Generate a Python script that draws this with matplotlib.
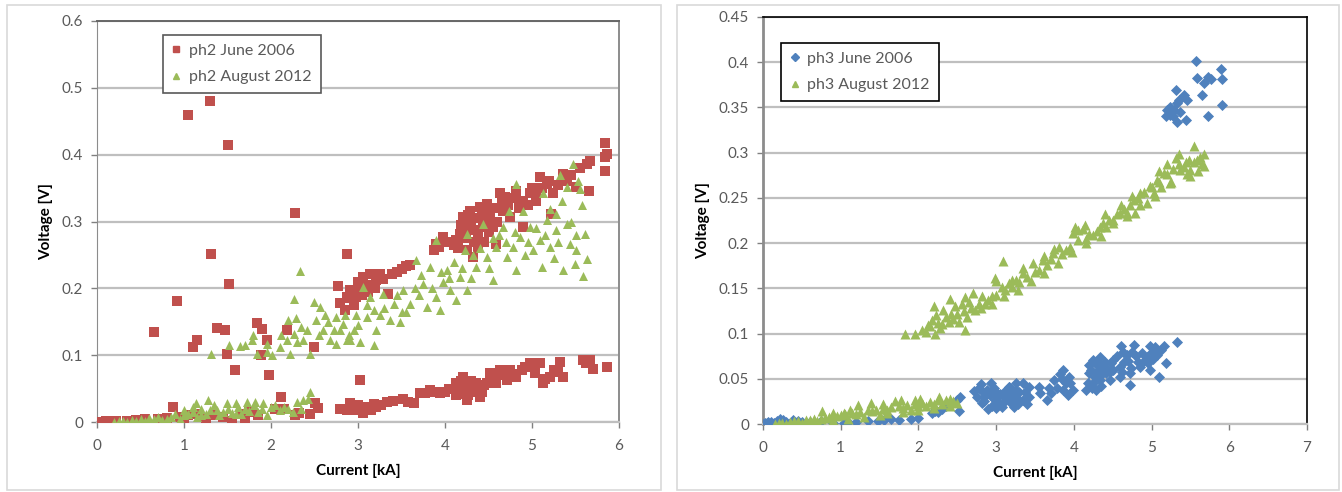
import numpy as np
import matplotlib.pyplot as plt
from matplotlib.patches import Rectangle
from matplotlib.lines import Line2D

plt.rcParams['font.family'] = ['Lato', 'DejaVu Sans']

# ---- ph2, June 2006 (current kA, voltage V) ----
ph2_2006_low = [(0.03, 0.0), (0.08, 0.0), (0.12, 0.0), (0.17, 0.0), (0.22, 0.001), (0.1, 0.002),
                (0.35, 0.002), (0.45, 0.003), (0.55, 0.005), (0.7, 0.004), (0.8, 0.006), (0.87, 0.023),
                (0.95, 0.008), (1.0, 0.0), (1.05, 0.01), (1.15, 0.012), (1.25, 0.005), (1.35, 0.01),
                (1.45, 0.008), (1.55, 0.002), (1.65, 0.012), (1.7, 0.005), (1.75, 0.015), (1.85, 0.01),
                (2.05, 0.02), (2.11, 0.038), (2.15, 0.02), (2.28, 0.01), (2.32, 0.014), (2.5, 0.028),
                (2.54, 0.021), (2.45, 0.012)]
ph2_2006_out = [(1.05, 0.46), (1.3, 0.48), (1.5, 0.415), (2.28, 0.312), (1.31, 0.252), (0.92, 0.181),
                (1.52, 0.206), (0.65, 0.134), (1.10, 0.112), (1.15, 0.122), (1.38, 0.141), (1.47, 0.138),
                (1.49, 0.102), (1.59, 0.078), (1.84, 0.148), (1.90, 0.139), (1.95, 0.122), (1.88, 0.1),
                (1.98, 0.07), (2.49, 0.112), (2.18, 0.137)]
ph2_2006_high = [(2.87, 0.252), (2.77, 0.204), (2.79, 0.178), (2.87, 0.187), (2.85, 0.167), (2.91, 0.197),
                 (2.91, 0.185), (2.98, 0.187), (3.06, 0.217), (3.14, 0.222), (3.21, 0.212), (3.29, 0.214),
                 (3.39, 0.222), (3.50, 0.229), (3.55, 0.234), (3.35, 0.192), (3.0, 0.2), (3.1, 0.205),
                 (3.87, 0.257), (3.90, 0.267), (3.98, 0.277), (4.17, 0.282), (4.21, 0.306), (4.29, 0.316),
                 (4.40, 0.321), (4.48, 0.311), (4.55, 0.292), (4.13, 0.272), (4.25, 0.257), (4.32, 0.247),
                 (4.36, 0.287), (4.59, 0.267), (4.67, 0.316), (4.69, 0.336), (4.63, 0.342), (4.75, 0.306),
                 (4.44, 0.292), (4.48, 0.326), (4.2, 0.29), (4.3, 0.3), (4.15, 0.26), (4.33, 0.27),
                 (4.90, 0.331), (4.98, 0.342), (5.09, 0.366), (5.17, 0.356), (5.24, 0.342), (5.36, 0.371),
                 (5.40, 0.361), (4.90, 0.292), (5.05, 0.331), (4.82, 0.346), (5.22, 0.311), (5.0, 0.35),
                 (5.63, 0.386), (5.67, 0.391), (5.65, 0.346), (5.51, 0.351), (5.84, 0.396), (5.84, 0.376),
                 (5.86, 0.401), (5.84, 0.418),
                 (4.18, 0.295), (4.24, 0.275), (4.27, 0.31), (4.34, 0.305), (4.38, 0.28), (4.42, 0.31),
                 (4.46, 0.3), (4.5, 0.285), (4.52, 0.305), (4.28, 0.29), (4.1, 0.265), (4.38, 0.262),
                 (4.45, 0.27), (4.55, 0.32), (4.6, 0.3), (4.65, 0.33), (4.72, 0.325), (4.8, 0.335),
                 (4.85, 0.32), (4.95, 0.325), (5.05, 0.345), (5.12, 0.35), (5.2, 0.36), (5.3, 0.355),
                 (5.45, 0.37), (5.55, 0.38), (3.0, 0.21), (3.05, 0.19), (3.2, 0.2), (3.25, 0.222),
                 (3.45, 0.225), (3.6, 0.235), (3.93, 0.262), (4.05, 0.27), (2.95, 0.175), (3.12, 0.195)]
ph2_2006_band = [(3.02, 0.063), (2.79, 0.020), (2.91, 0.028), (2.98, 0.018), (3.10, 0.023), (3.21, 0.023),
                 (3.33, 0.030), (3.06, 0.013), (2.87, 0.018), (3.15, 0.018), (3.27, 0.026),
                 (3.52, 0.035), (3.64, 0.028), (3.71, 0.043), (3.83, 0.048), (3.94, 0.043), (3.88, 0.045),
                 (4.13, 0.058), (4.21, 0.068), (4.29, 0.048), (4.36, 0.058), (4.25, 0.033), (4.13, 0.040),
                 (4.40, 0.038), (4.48, 0.058), (4.2, 0.05), (4.3, 0.062), (4.22, 0.042), (4.35, 0.045),
                 (4.52, 0.073), (4.63, 0.078), (4.75, 0.078), (4.59, 0.058), (4.82, 0.068), (4.98, 0.088),
                 (5.09, 0.088), (5.03, 0.073), (5.13, 0.058), (5.21, 0.068), (5.32, 0.090), (5.36, 0.068),
                 (5.59, 0.093), (5.67, 0.093), (5.70, 0.080), (5.86, 0.083), (4.71, 0.063), (4.55, 0.065),
                 (2.93, 0.022), (3.0, 0.025), (3.18, 0.027), (3.4, 0.032), (3.58, 0.03), (3.77, 0.044),
                 (4.0, 0.045), (4.05, 0.05), (4.15, 0.052), (4.18, 0.062), (4.27, 0.055), (4.32, 0.052),
                 (4.38, 0.05), (4.45, 0.055), (4.42, 0.045), (4.27, 0.04), (4.62, 0.07), (4.68, 0.075),
                 (4.78, 0.072), (4.88, 0.078), (4.92, 0.082), (5.25, 0.078), (5.3, 0.075), (5.15, 0.065),
                 (5.62, 0.088)]

# ---- ph2, August 2012 ----
ph2_2012_low = [(0.2, 0.0), (0.3, 0.002), (0.4, 0.003), (0.5, 0.004), (0.6, 0.006), (0.7, 0.008),
                (0.8, 0.005), (0.9, 0.012), (1.0, 0.01), (1.1, 0.015), (1.14, 0.028), (1.2, 0.02),
                (1.25, 0.012), (1.28, 0.033), (1.3, 0.018), (1.35, 0.025), (1.45, 0.015), (1.49, 0.029),
                (1.5, 0.02), (1.6, 0.028), (1.65, 0.012), (1.7, 0.02), (1.72, 0.030), (1.8, 0.025),
                (1.85, 0.015), (1.9, 0.02), (1.91, 0.028), (2.0, 0.022), (2.1, 0.018), (2.2, 0.02),
                (2.3, 0.03), (2.37, 0.033), (2.45, 0.045), (0.35, 0.0), (0.55, 0.002), (0.75, 0.003),
                (0.95, 0.005), (1.15, 0.008), (1.4, 0.01), (1.6, 0.012), (1.95, 0.01), (2.25, 0.015),
                (0.25, 0.001), (0.45, 0.002), (0.65, 0.004), (0.85, 0.008), (1.05, 0.012), (1.2, 0.01),
                (1.38, 0.018), (1.55, 0.014), (1.75, 0.016), (1.82, 0.03), (2.05, 0.025), (2.15, 0.022),
                (2.35, 0.02), (2.42, 0.035), (1.0, 0.018), (1.62, 0.022), (1.1, 0.022)]
ph2_2012_high = [(2.33, 0.226), (2.26, 0.184), (1.31, 0.101), (1.52, 0.115), (1.64, 0.113), (1.78, 0.122),
                 (1.79, 0.13), (1.84, 0.102), (1.95, 0.117), (2.01, 0.1), (2.10, 0.112), (2.18, 0.122),
                 (2.20, 0.152), (2.29, 0.155), (2.26, 0.132), (2.22, 0.102), (2.37, 0.122), (2.45, 0.102),
                 (2.49, 0.18), (2.56, 0.172), (2.52, 0.152), (2.60, 0.137), (2.68, 0.122), (2.75, 0.157),
                 (2.79, 0.137), (2.87, 0.122), (2.41, 0.137), (2.72, 0.137), (2.83, 0.147), (2.95, 0.137),
                 (2.75, 0.117), (2.91, 0.122), (3.02, 0.12), (3.18, 0.115), (3.10, 0.157), (3.18, 0.167),
                 (3.21, 0.137), (3.06, 0.202), (3.14, 0.187), (3.29, 0.192), (3.37, 0.152), (3.48, 0.15),
                 (3.41, 0.177), (3.52, 0.197), (3.60, 0.177), (3.67, 0.242), (3.75, 0.207), (3.79, 0.172),
                 (3.83, 0.232), (3.90, 0.187), (3.94, 0.167), (3.90, 0.272), (4.02, 0.227), (4.06, 0.197),
                 (4.13, 0.182), (4.17, 0.217), (4.25, 0.197), (4.23, 0.257), (4.25, 0.282), (4.36, 0.232),
                 (4.44, 0.297), (4.48, 0.247), (4.55, 0.212), (4.59, 0.262), (4.67, 0.292), (4.71, 0.247),
                 (4.73, 0.316), (4.78, 0.262), (4.82, 0.227), (4.86, 0.277), (4.90, 0.316), (4.98, 0.292),
                 (5.01, 0.257), (5.09, 0.272), (5.13, 0.342), (5.17, 0.302), (5.11, 0.232), (5.21, 0.262),
                 (5.28, 0.287), (5.36, 0.227), (5.40, 0.297), (5.44, 0.267), (5.49, 0.237), (5.51, 0.257),
                 (5.59, 0.219), (5.61, 0.282), (5.63, 0.244), (4.82, 0.356), (5.32, 0.369), (5.47, 0.386),
                 (5.53, 0.361), (5.55, 0.349), (5.57, 0.324), (5.40, 0.351), (5.21, 0.319), (5.28, 0.311),
                 (2.35, 0.142), (2.62, 0.16), (2.98, 0.16), (3.3, 0.17), (3.55, 0.165), (3.7, 0.19),
                 (3.98, 0.21), (4.1, 0.24), (4.4, 0.26), (4.62, 0.28), (4.95, 0.27), (5.25, 0.245),
                 (3.0, 0.145), (3.1, 0.175), (3.25, 0.16), (3.45, 0.19), (3.5, 0.165), (3.65, 0.2),
                 (3.72, 0.22), (3.85, 0.2), (3.95, 0.225), (4.05, 0.215), (4.2, 0.23), (4.3, 0.215),
                 (4.32, 0.25), (4.5, 0.23), (4.55, 0.275), (4.7, 0.27), (4.8, 0.285), (4.92, 0.25),
                 (5.05, 0.29), (5.15, 0.28), (5.3, 0.27), (5.45, 0.3), (5.5, 0.28), (5.35, 0.33),
                 (2.9, 0.13), (2.85, 0.16), (2.55, 0.13), (2.65, 0.15), (2.3, 0.12), (2.12, 0.13),
                 (1.7, 0.115), (1.95, 0.105)]

# ---- ph3, June 2006 ----
ph3_2006_low = [(0.0, 0.0), (0.02, 0.001), (0.05, 0.001), (0.1, 0.002), (0.14, 0.001), (0.22, 0.005),
                (0.3, 0.002), (0.39, 0.004), (0.5, 0.002), (0.74, 0.003), (0.9, 0.001), (1.04, 0.001),
                (1.2, 0.002), (1.35, 0.003), (1.56, 0.004), (1.75, 0.004), (1.91, 0.006), (2.17, 0.012),
                (2.21, 0.014), (2.30, 0.017), (2.25, 0.013), (2.52, 0.014), (2.54, 0.030), (2.5, 0.026),
                (0.06, 0.002), (0.18, 0.003), (0.26, 0.004), (0.45, 0.003), (0.6, 0.002), (1.1, 0.002),
                (1.48, 0.003), (1.65, 0.005), (2.0, 0.007), (2.35, 0.02), (2.42, 0.022)]
ph3_2006_mid = [(2.80, 0.044), (2.93, 0.045), (2.71, 0.036), (2.82, 0.023), (2.99, 0.027), (3.08, 0.019),
                (3.16, 0.041), (2.99, 0.036), (2.90, 0.017), (3.21, 0.030), (2.85, 0.03), (3.05, 0.033),
                (3.12, 0.025), (2.95, 0.02), (3.3, 0.035), (2.88, 0.038), (3.42, 0.041), (3.34, 0.045),
                (3.25, 0.038), (3.16, 0.041), (3.21, 0.027), (3.34, 0.027), (3.12, 0.030), (3.23, 0.019),
                (3.42, 0.030), (3.28, 0.022), (3.86, 0.060), (3.94, 0.052), (3.99, 0.038), (3.86, 0.038),
                (3.92, 0.032), (3.75, 0.049), (3.71, 0.034), (3.66, 0.027), (3.55, 0.041), (3.57, 0.034),
                (3.9, 0.045), (3.82, 0.055),
                (2.75, 0.03), (2.78, 0.04), (2.85, 0.025), (2.92, 0.032), (2.97, 0.04), (3.02, 0.03),
                (3.05, 0.022), (3.1, 0.035), (3.15, 0.028), (3.18, 0.034), (3.26, 0.03), (3.3, 0.025),
                (3.37, 0.035), (3.4, 0.022), (2.83, 0.035), (3.0, 0.018), (3.2, 0.022), (3.25, 0.045),
                (3.78, 0.04), (3.85, 0.05), (3.95, 0.045), (3.68, 0.04)]
ph3_2006_band = [(5.33, 0.091), (5.16, 0.086), (4.98, 0.086), (4.77, 0.087), (4.61, 0.086), (4.68, 0.076),
                 (4.94, 0.074), (5.07, 0.076), (5.18, 0.067), (5.09, 0.052), (4.98, 0.060), (4.85, 0.063),
                 (4.72, 0.056), (4.72, 0.043), (4.59, 0.063), (4.51, 0.071), (4.42, 0.056), (4.33, 0.074),
                 (4.25, 0.071), (4.20, 0.056), (4.33, 0.049), (4.16, 0.038), (4.29, 0.038), (4.46, 0.049),
                 (4.38, 0.062), (4.51, 0.060), (4.59, 0.052), (4.2, 0.065), (4.3, 0.058), (4.25, 0.045),
                 (4.8, 0.075), (4.9, 0.07), (5.0, 0.08), (4.65, 0.068), (4.4, 0.068), (5.12, 0.082),
                 (4.22, 0.06), (4.27, 0.052), (4.31, 0.066), (4.36, 0.055), (4.41, 0.062), (4.46, 0.058),
                 (4.48, 0.067), (4.55, 0.075), (4.63, 0.08), (4.7, 0.07), (4.75, 0.08), (4.83, 0.068),
                 (4.88, 0.078), (4.95, 0.067), (5.02, 0.072), (5.05, 0.085), (4.18, 0.045), (4.23, 0.04),
                 (4.28, 0.066), (4.35, 0.042), (4.62, 0.058), (4.74, 0.062)]
ph3_2006_high = [(5.57, 0.401), (5.59, 0.383), (5.68, 0.377), (5.72, 0.384), (5.76, 0.381), (5.65, 0.364),
                 (5.89, 0.392), (5.91, 0.381), (5.91, 0.353), (5.72, 0.341), (5.32, 0.369), (5.42, 0.364),
                 (5.46, 0.358), (5.33, 0.355), (5.24, 0.351), (5.20, 0.347), (5.29, 0.347), (5.37, 0.345),
                 (5.18, 0.340), (5.33, 0.334), (5.44, 0.336), (5.24, 0.342), (5.35, 0.358), (5.28, 0.340)]

# ---- ph3, August 2012 ----
ph3_2012_low = [(0.15, 0.0), (0.25, 0.001), (0.35, 0.002), (0.45, 0.003), (0.55, 0.004), (0.65, 0.005),
                (0.75, 0.006), (0.85, 0.008), (0.95, 0.009), (1.05, 0.011), (1.15, 0.012), (1.25, 0.013),
                (1.35, 0.015), (1.45, 0.016), (1.55, 0.017), (1.65, 0.019), (1.75, 0.02), (1.85, 0.021),
                (1.95, 0.022), (2.05, 0.023), (2.15, 0.024), (2.25, 0.026), (2.35, 0.027), (2.45, 0.025),
                (1.39, 0.023), (1.78, 0.027), (2.26, 0.030), (2.41, 0.028), (2.49, 0.023), (2.02, 0.028),
                (1.22, 0.021), (0.76, 0.014), (1.04, 0.012), (1.5, 0.01), (1.8, 0.013), (2.0, 0.015),
                (2.2, 0.018), (1.1, 0.006), (0.9, 0.004), (0.6, 0.001), (2.4, 0.02), (0.3, 0.0),
                (0.5, 0.001), (0.7, 0.003), (1.3, 0.008), (1.6, 0.012), (1.9, 0.016), (2.1, 0.02),
                (0.2, 0.001), (0.4, 0.003), (0.6, 0.004), (0.8, 0.007), (1.0, 0.01), (1.2, 0.011),
                (1.4, 0.014), (1.6, 0.016), (1.8, 0.018), (2.0, 0.02), (2.2, 0.022), (2.4, 0.024),
                (1.12, 0.016), (1.55, 0.022), (1.95, 0.026), (2.3, 0.022), (0.9, 0.012), (1.7, 0.025)]
ph3_2012_high = [(1.83, 0.100), (1.96, 0.100), (2.10, 0.102), (2.17, 0.115), (2.23, 0.121), (2.32, 0.126),
                 (2.30, 0.111), (2.39, 0.113), (2.52, 0.113), (2.60, 0.104), (2.47, 0.130), (2.56, 0.133),
                 (2.65, 0.135), (2.73, 0.126), (2.82, 0.141), (2.86, 0.133), (2.95, 0.141), (2.99, 0.161),
                 (3.09, 0.180), (3.08, 0.152), (3.16, 0.156), (3.25, 0.159), (2.21, 0.100), (3.21, 0.159),
                 (3.34, 0.167), (3.47, 0.178), (3.60, 0.181), (3.73, 0.189), (3.81, 0.196), (3.55, 0.170),
                 (3.75, 0.194), (3.90, 0.192), (3.99, 0.211), (4.12, 0.216), (4.16, 0.204), (4.25, 0.209),
                 (4.33, 0.218), (4.42, 0.218), (4.51, 0.226), (4.61, 0.242), (4.68, 0.233), (4.77, 0.248),
                 (4.85, 0.255), (4.94, 0.244), (4.98, 0.263), (5.07, 0.270), (5.16, 0.277), (5.20, 0.287),
                 (5.24, 0.266), (5.31, 0.294), (5.37, 0.281), (5.44, 0.290), (5.50, 0.281), (5.55, 0.307),
                 (5.59, 0.292), (5.68, 0.298), (5.68, 0.285), (5.50, 0.274), (4.01, 0.218), (4.14, 0.220),
                 (4.59, 0.233), (4.79, 0.233), (5.03, 0.255),
                 (2.05, 0.104), (2.15, 0.108), (2.25, 0.112), (2.35, 0.118), (2.42, 0.122), (2.5, 0.122),
                 (2.58, 0.125), (2.68, 0.128), (2.78, 0.133), (2.9, 0.137), (3.0, 0.143), (3.12, 0.148),
                 (3.2, 0.152), (3.3, 0.157), (3.4, 0.163), (3.5, 0.168), (3.65, 0.176), (3.7, 0.182),
                 (3.85, 0.188), (3.95, 0.196), (4.05, 0.203), (4.2, 0.21), (4.3, 0.213), (4.38, 0.222),
                 (4.45, 0.226), (4.55, 0.232), (4.65, 0.238), (4.72, 0.242), (4.82, 0.25), (4.9, 0.256),
                 (5.0, 0.262), (5.1, 0.268), (5.12, 0.262), (5.2, 0.276), (5.28, 0.282), (5.35, 0.288),
                 (5.42, 0.284), (5.48, 0.292), (5.55, 0.29), (5.62, 0.295), (5.65, 0.288), (2.12, 0.11),
                 (2.28, 0.106), (2.45, 0.116), (2.62, 0.118), (2.8, 0.128), (2.95, 0.133), (3.1, 0.142),
                 (3.28, 0.148), (3.45, 0.158), (3.62, 0.167), (3.8, 0.178), (3.98, 0.19), (4.15, 0.2),
                 (4.35, 0.208), (4.5, 0.222), (4.68, 0.23), (4.85, 0.242), (5.05, 0.252), (5.25, 0.268),
                 (5.45, 0.276), (5.6, 0.28), (2.2, 0.13), (2.4, 0.138), (2.7, 0.145), (3.0, 0.158),
                 (3.35, 0.172), (3.62, 0.186), (4.05, 0.214), (4.4, 0.232), (4.75, 0.252), (5.1, 0.28),
                 (5.35, 0.298), (2.6, 0.14)]

RED = '#C0504D'
GREEN = '#9BBB59'
BLUE = '#4F81BD'
TXT = '#595959'


def pts(*groups):
    arr = np.array([p for g in groups for p in g])
    return arr[:, 0], arr[:, 1]


def style_axes(ax, xmax, ymax, ystep, ylabels):
    ax.set_xlim(0, xmax)
    ax.set_ylim(0, ymax)
    ax.set_xticks(range(0, xmax + 1))
    ax.set_yticks(np.arange(0, ymax + ystep / 2, ystep))
    ax.set_yticklabels(ylabels)
    ax.grid(axis='y', color='#bfbfbf', linewidth=1.6)
    ax.set_axisbelow(True)
    ax.tick_params(colors='#808080', labelcolor=TXT, labelsize=11, length=4, width=1)
    ax.tick_params(axis='x', pad=8)
    ax.tick_params(axis='y', pad=6)
    ax.set_xlabel('Current [kA]', fontweight='bold', fontsize=11, color='#000000', labelpad=8)
    ax.set_ylabel('Voltage [V]', fontweight='bold', fontsize=11, color='#000000', labelpad=6)


fig = plt.figure(figsize=(13.42, 4.92), dpi=100)
fig.patches.append(Rectangle((7 / 1342, 2 / 492), 654 / 1342, 485 / 492, transform=fig.transFigure,
                             fill=False, edgecolor='#d9d9d9', linewidth=1.2))
fig.patches.append(Rectangle((677 / 1342, 2 / 492), 662 / 1342, 485 / 492, transform=fig.transFigure,
                             fill=False, edgecolor='#d9d9d9', linewidth=1.2))

# left panel: ph2
ax1 = fig.add_axes([97 / 1342, 70 / 492, 522 / 1342, 401 / 492])
x, y = pts(ph2_2006_low, ph2_2006_out, ph2_2006_high, ph2_2006_band)
ax1.scatter(x, y, marker='s', s=44, color=RED, linewidths=0, zorder=3)
x, y = pts(ph2_2012_low, ph2_2012_high)
ax1.scatter(x, y, marker='^', s=42, color=GREEN, linewidths=0, zorder=4)
style_axes(ax1, 6, 0.6, 0.1, ['0', '0.1', '0.2', '0.3', '0.4', '0.5', '0.6'])
ax1.spines['left'].set_color('#8c8c8c')
ax1.spines['bottom'].set_color('#bfbfbf')
ax1.spines['bottom'].set_linewidth(1.6)
ax1.spines['top'].set_color('#666666')
ax1.spines['top'].set_linewidth(1.4)
ax1.spines['right'].set_color('#8c8c8c')
ax1.spines['right'].set_linewidth(1.4)
h1 = [Line2D([], [], marker='s', ls='', color=RED, markersize=5),
      Line2D([], [], marker='^', ls='', color=GREEN, markersize=5)]
leg1 = ax1.legend(h1, ['ph2 June 2006', 'ph2 August 2012'], loc='upper left',
                  bbox_to_anchor=(0.126, 0.965), fontsize=11.5, frameon=True, fancybox=False,
                  handlelength=0.6, handletextpad=0.5, borderpad=0.55, labelspacing=0.75,
                  labelcolor=TXT, borderaxespad=0)
leg1.get_frame().set_edgecolor('#595959')
leg1.get_frame().set_linewidth(1.2)
leg1.get_frame().set_alpha(1)

# right panel: ph3
ax2 = fig.add_axes([763 / 1342, 68 / 492, 544 / 1342, 407 / 492])
x, y = pts(ph3_2006_low, ph3_2006_mid, ph3_2006_band, ph3_2006_high)
ax2.scatter(x, y, marker='D', s=32, color=BLUE, linewidths=0, zorder=3)
x, y = pts(ph3_2012_low, ph3_2012_high)
ax2.scatter(x, y, marker='^', s=52, color=GREEN, linewidths=0, zorder=4)
style_axes(ax2, 7, 0.45, 0.05, ['0', '0.05', '0.1', '0.15', '0.2', '0.25', '0.3', '0.35', '0.4', '0.45'])
ax2.spines['left'].set_color('#8c8c8c')
ax2.spines['left'].set_linewidth(2)
ax2.spines['bottom'].set_color('#bfbfbf')
ax2.spines['bottom'].set_linewidth(1.6)
ax2.spines['top'].set_color('#000000')
ax2.spines['top'].set_linewidth(1.2)
ax2.spines['right'].set_color('#000000')
ax2.spines['right'].set_linewidth(1.2)
h2 = [Line2D([], [], marker='D', ls='', color=BLUE, markersize=4),
      Line2D([], [], marker='^', ls='', color=GREEN, markersize=5)]
leg2 = ax2.legend(h2, ['ph3 June 2006', 'ph3 August 2012'], loc='upper left',
                  bbox_to_anchor=(0.033, 0.936), fontsize=11.5, frameon=True, fancybox=False,
                  handlelength=0.6, handletextpad=0.5, borderpad=0.55, labelspacing=0.75,
                  labelcolor=TXT, borderaxespad=0)
leg2.get_frame().set_edgecolor('#000000')
leg2.get_frame().set_linewidth(1.2)
leg2.get_frame().set_alpha(1)

plt.savefig('out.png', dpi=100)
